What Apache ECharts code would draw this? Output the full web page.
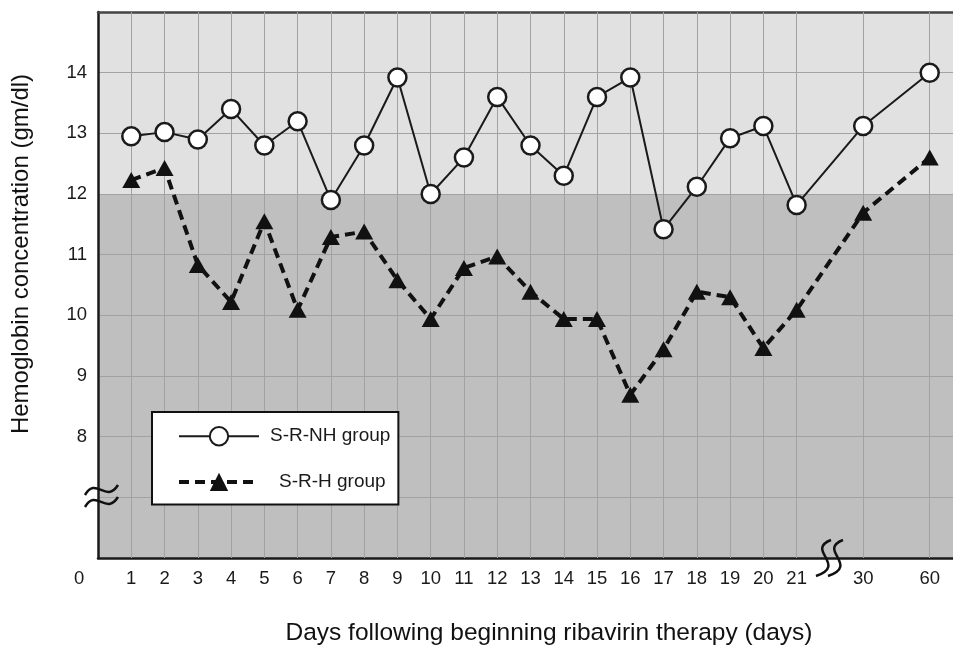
<!DOCTYPE html>
<html>
<head>
<meta charset="utf-8">
<script src="https://cdn.jsdelivr.net/npm/echarts@6/dist/echarts.min.js"></script>
<style>
  html, body { margin: 0; padding: 0; background: #fff; }
  #main { width: 953px; height: 648px; }
</style>
</head>
<body>
<div id="main"></div>
<script>
// x axis is broken after day 21, so 30 and 60 sit two steps apart
var dayLabels = ['1', '2', '3', '4', '5', '6', '7', '8', '9', '10', '11', '12', '13', '14', '15', '16', '17', '18', '19', '20', '21', '30', '60'];
var dayPositions = [1, 2, 3, 4, 5, 6, 7, 8, 9, 10, 11, 12, 13, 14, 15, 16, 17, 18, 19, 20, 21, 23, 25];

// S-R-NH group (open circles)
var srNH = [12.95, 13.02, 12.9, 13.4, 12.8, 13.2, 11.9, 12.8, 13.92, 12.0, 12.6, 13.6, 12.8, 12.3, 13.6, 13.92, 11.42, 12.12, 12.92, 13.12, 11.82, 13.12, 14.0];
// S-R-H group (filled triangles)
var srH = [12.23, 12.43, 10.83, 10.22, 11.55, 10.09, 11.29, 11.38, 10.58, 9.94, 10.78, 10.97, 10.39, 9.94, 9.94, 8.69, 9.44, 10.39, 10.3, 9.46, 10.09, 11.69, 12.6];

var yTicks = [8, 9, 10, 11, 12, 13, 14];

var FONT = 'Liberation Sans, Arial, sans-serif';

function pairs(vals) {
    return vals.map(function (v, i) { return [dayPositions[i], v]; });
}

var chart = echarts.init(document.getElementById('main'));

var option = {
    animation: false,
    backgroundColor: '#fff',
    grid: { left: 98, top: 12, right: 0, bottom: 90 },
    xAxis: [{
        type: 'value',
        min: 0,
        max: 25.7,
        interval: 1,
        axisLine: { show: true, lineStyle: { color: '#1a1a1a', width: 2.5 } },
        axisTick: { show: false },
        splitLine: { show: false },
        axisLabel: {
            margin: 11,
            fontSize: 18.5,
            color: '#1a1a1a',
            fontFamily: FONT,
            showMaxLabel: false,
            formatter: function (v) {
                var i = dayPositions.indexOf(v);
                return i >= 0 ? dayLabels[i] : '';
            }
        }
    }, {
        // top border of the plot
        type: 'value',
        position: 'top',
        min: 0,
        max: 25.7,
        axisLine: { show: true, lineStyle: { color: '#444', width: 2.5 } },
        axisTick: { show: false },
        axisLabel: { show: false },
        splitLine: { show: false }
    }],
    yAxis: {
        type: 'value',
        min: 6,
        max: 15,
        interval: 1,
        axisLine: { show: true, lineStyle: { color: '#1a1a1a', width: 2.5 } },
        axisTick: { show: false },
        axisLabel: {
            margin: 11,
            fontSize: 18.5,
            color: '#1a1a1a',
            fontFamily: FONT,
            formatter: function (v) {
                return yTicks.indexOf(v) >= 0 ? String(v) : '';
            }
        },
        splitLine: { show: true, lineStyle: { color: '#a2a2a2', width: 1 } },
        splitArea: {
            show: true,
            areaStyle: {
                // bands 6-12 darker, 12-15 lighter
                color: ['#bfbfbf', '#bfbfbf', '#bfbfbf', '#bfbfbf', '#bfbfbf', '#bfbfbf', '#e1e1e1', '#e1e1e1', '#e1e1e1']
            }
        }
    },
    legend: {
        orient: 'vertical',
        left: 152,
        top: 412,
        z: 20,
        itemWidth: 80,
        itemHeight: 23,
        itemGap: 26,
        padding: [14, 8, 13, 25],
        backgroundColor: '#fff',
        borderColor: '#111',
        borderWidth: 2,
        borderRadius: 0,
        textStyle: { fontSize: 19, color: '#1a1a1a', fontFamily: FONT, padding: [0, 0, 0, 6] },
        data: [
            { name: 'S-R-NH group' },
            { name: 'S-R-H group', lineStyle: { width: 4 }, textStyle: { padding: [0, 0, 0, 15] } }
        ]
    },
    graphic: [
        {
            type: 'text', left: 74, top: 569,
            style: { text: '0', fontSize: 18.5, fill: '#1a1a1a', fontFamily: FONT }
        },
        {
            type: 'text', x: 549, y: 633,
            style: {
                text: 'Days following beginning ribavirin therapy (days)',
                fontSize: 24.5, fill: '#111', fontFamily: FONT,
                textAlign: 'center', textVerticalAlign: 'middle'
            }
        },
        {
            type: 'text', x: 21, y: 254, rotation: Math.PI / 2,
            style: {
                text: 'Hemoglobin concentration (gm/dl)',
                fontSize: 24, fill: '#111', fontFamily: FONT,
                textAlign: 'center', textVerticalAlign: 'middle'
            }
        },
        // y axis break marks
        {
            type: 'bezierCurve', z: 100,
            shape: { x1: 85, y1: 495, cpx1: 96, cpy1: 476, cpx2: 106, cpy2: 504, x2: 118, y2: 485 },
            style: { stroke: '#111', lineWidth: 2.5, fill: null }
        },
        {
            type: 'bezierCurve', z: 100,
            shape: { x1: 85, y1: 507, cpx1: 96, cpy1: 488, cpx2: 106, cpy2: 516, x2: 118, y2: 497 },
            style: { stroke: '#111', lineWidth: 2.5, fill: null }
        },
        // x axis break marks
        {
            type: 'bezierCurve', z: 100,
            shape: { x1: 831, y1: 540, cpx1: 805, cpy1: 550, cpx2: 848, cpy2: 565, x2: 816, y2: 576 },
            style: { stroke: '#111', lineWidth: 2.5, fill: null }
        },
        {
            type: 'bezierCurve', z: 100,
            shape: { x1: 843, y1: 540, cpx1: 817, cpy1: 550, cpx2: 860, cpy2: 565, x2: 828, y2: 576 },
            style: { stroke: '#111', lineWidth: 2.5, fill: null }
        }
    ],
    series: [
        {
            // vertical grid lines at each plotted day
            name: 'grid',
            type: 'line',
            data: [],
            silent: true,
            z: 1,
            markLine: {
                silent: true,
                z: 1,
                symbol: 'none',
                label: { show: false },
                lineStyle: { color: '#a2a2a2', width: 1, type: 'solid' },
                data: dayPositions.map(function (p) { return { xAxis: p }; })
            }
        },
        {
            name: 'S-R-NH group',
            type: 'line',
            z: 3,
            data: pairs(srNH),
            symbol: 'circle',
            symbolSize: 18,
            lineStyle: { color: '#1a1a1a', width: 2 },
            itemStyle: { color: '#fff', borderColor: '#1a1a1a', borderWidth: 2.5 }
        },
        {
            name: 'S-R-H group',
            type: 'line',
            z: 4,
            data: pairs(srH),
            symbol: 'triangle',
            symbolSize: [18, 16],
            lineStyle: { color: '#111', width: 4, type: [10, 6] },
            itemStyle: { color: '#111', borderColor: '#111', borderWidth: 0 }
        }
    ]
};

chart.setOption(option);
</script>
</body>
</html>
